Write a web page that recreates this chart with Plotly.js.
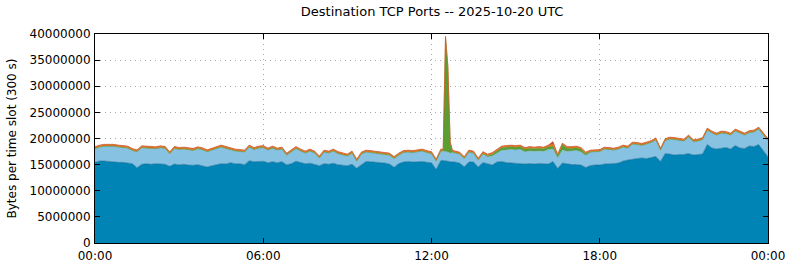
<!DOCTYPE html>
<html>
<head>
<meta charset="utf-8">
<script src="https://cdn.plot.ly/plotly-3.0.1.min.js"></script>
<style>html,body{margin:0;padding:0;background:#fff;}#chart{width:790px;height:267px;}</style>
</head>
<body>
<div id="chart"></div>
<script>
// Time slots (HH:MM on 2025-10-20; "24:00" = midnight at the end of the day)
const slotTimes = [
"00:00","00:10","00:20","00:30","00:40","00:50","01:00","01:10","01:20","01:30","01:40","01:50",
"02:00","02:10","02:20","02:30","02:40","02:50","03:00","03:10","03:20","03:30","03:40","03:50",
"04:00","04:10","04:20","04:30","04:40","04:50","05:00","05:10","05:20","05:30","05:40","05:50",
"06:00","06:10","06:20","06:30","06:40","06:50","07:00","07:10","07:20","07:30","07:40","07:50",
"08:00","08:10","08:20","08:30","08:40","08:50","09:00","09:10","09:20","09:30","09:40","09:50",
"10:00","10:10","10:20","10:30","10:40","10:50","11:00","11:10","11:20","11:30","11:40","11:50",
"12:00","12:10","12:20","12:25","12:30","12:35","12:40","12:45","12:50",
"13:00","13:10","13:20","13:30","13:40","13:50","14:00","14:10","14:20","14:30","14:40","14:50",
"15:00","15:10","15:20","15:30","15:40","15:50","16:00","16:10","16:20","16:30","16:40","16:50",
"17:00","17:10","17:20","17:30","17:40","17:50","18:00","18:10","18:20","18:30","18:40","18:50",
"19:00","19:10","19:20","19:30","19:40","19:50","20:00","20:10","20:20","20:30","20:40","20:50",
"21:00","21:10","21:20","21:30","21:40","21:50","22:00","22:10","22:20","22:30","22:40","22:50",
"23:00","23:10","23:20","23:30","23:40","23:50","24:00"
];

// Series values in millions of bytes per slot (stack order: bottom -> top)
const portDarkBlue = [
15.44,15.69,15.69,15.57,15.57,15.44,15.44,15.31,15.18,14.42,
15.06,15.18,15.06,15.18,15.12,15.06,14.67,15.12,14.95,15.06,
14.93,14.87,15.00,14.80,14.55,14.80,15.06,15.18,15.12,15.37,
15.18,15.18,14.99,15.75,15.56,15.65,15.65,15.37,15.56,15.37,
15.56,14.99,15.18,15.65,15.37,15.18,15.27,15.08,14.80,15.18,
15.08,15.27,14.99,14.89,14.80,15.08,14.32,14.99,15.60,15.55,
15.50,15.35,15.30,15.10,14.50,15.20,15.50,15.60,15.50,15.55,
15.60,15.45,15.35,14.10,15.80,
15.80,15.70,15.60,15.50,15.50,
15.50,15.30,14.60,15.50,15.50,14.55,15.40,15.12,14.93,15.50,
15.60,15.40,15.31,15.31,15.21,15.12,15.21,15.12,15.21,15.12,
15.12,15.60,14.26,15.31,15.12,15.02,15.02,14.93,14.45,14.83,
14.93,14.93,15.12,15.12,15.21,15.31,15.69,15.89,16.08,16.17,
16.27,16.17,16.36,16.56,15.60,17.13,17.03,16.84,16.94,16.94,
17.13,16.84,16.94,17.03,18.85,18.18,17.99,18.18,18.28,17.99,
18.66,18.18,18.09,18.56,18.47,18.85,17.61,16.50
];
const portLightBlue = [
2.56,2.62,2.76,2.93,2.88,2.87,2.81,2.80,2.47,2.98,
3.12,3.00,2.99,2.81,3.06,2.99,2.36,2.93,2.90,2.86,
2.87,2.80,2.99,3.00,2.86,2.87,2.86,3.13,2.93,2.36,
2.37,2.27,2.36,2.56,2.27,2.46,2.56,2.36,2.55,2.36,
2.36,1.78,2.17,2.37,2.18,1.98,2.28,2.08,1.40,2.17,
2.08,2.28,2.06,1.88,1.78,2.08,1.31,1.98,1.75,1.70,
1.66,1.62,1.57,1.67,1.61,1.57,1.75,1.75,1.75,1.90,
1.95,1.80,1.70,1.53,1.75,
1.75,1.80,1.80,1.70,1.80,
1.66,1.67,1.51,1.85,1.66,1.27,1.65,1.36,1.74,1.75,
2.11,2.41,2.60,2.50,2.70,2.31,2.41,2.40,2.41,2.40,
2.79,2.38,2.02,2.48,2.40,2.60,2.69,2.50,2.32,2.47,
2.52,2.52,2.80,2.71,2.52,2.61,2.62,2.22,2.80,2.62,
2.36,2.71,2.81,3.14,2.13,2.42,2.81,2.90,2.61,2.51,
3.09,2.52,2.51,2.71,2.71,2.81,2.61,2.81,2.61,2.61,
2.71,2.81,2.51,2.52,2.71,2.90,2.99,3.05
];
const portGreen = [
0.1,0.1,0.1,0.1,0.1,0.1,0.1,0.1,0.1,0.1,
0.1,0.1,0.1,0.1,0.1,0.1,0.1,0.1,0.1,0.1,
0.1,0.1,0.1,0.1,0.1,0.1,0.1,0.1,0.1,0.1,
0.1,0.1,0.1,0.1,0.1,0.1,0.1,0.1,0.1,0.1,
0.1,0.1,0.1,0.1,0.1,0.1,0.1,0.1,0.1,0.1,
0.1,0.1,0.1,0.1,0.1,0.1,0.1,0.1,0.1,0.1,
0.1,0.1,0.1,0.1,0.1,0.1,0.1,0.1,0.1,0.1,
0.1,0.1,0.1,0.1,0.1,
0.1,21.7,16.1,1.8,0.1,
0.1,0.1,0.1,0.1,0.1,0.1,0.1,0.2,0.3,0.4,
0.5,0.5,0.5,0.5,0.5,0.5,0.5,0.5,0.5,0.5,
0.5,0.5,0.4,1.0,0.6,0.5,0.5,0.5,0.3,0.15,
0.1,0.1,0.1,0.1,0.1,0.1,0.1,0.1,0.1,0.1,
0.1,0.1,0.1,0.1,0.1,0.1,0.1,0.1,0.1,0.1,
0.1,0.1,0.1,0.1,0.1,0.1,0.1,0.1,0.1,0.1,
0.1,0.1,0.1,0.1,0.1,0.1,0.1,0.1
];
const portOrange = [
0.25,0.25,0.25,0.25,0.25,0.25,0.25,0.25,0.25,0.25,
0.25,0.25,0.25,0.25,0.25,0.25,0.25,0.25,0.25,0.25,
0.25,0.25,0.25,0.25,0.25,0.25,0.25,0.25,0.25,0.25,
0.25,0.25,0.25,0.25,0.25,0.25,0.25,0.25,0.25,0.25,
0.25,0.25,0.25,0.25,0.25,0.25,0.25,0.25,0.25,0.25,
0.25,0.25,0.25,0.25,0.25,0.25,0.25,0.25,0.25,0.25,
0.25,0.25,0.25,0.25,0.25,0.25,0.25,0.25,0.25,0.25,
0.25,0.25,0.25,0.25,0.25,
0.25,0.30,0.35,0.30,0.25,
0.25,0.25,0.25,0.25,0.25,0.25,0.25,0.25,0.25,0.25,
0.25,0.25,0.25,0.25,0.25,0.25,0.25,0.25,0.25,0.25,
0.25,0.45,0.25,0.25,0.25,0.25,0.25,0.25,0.25,0.25,
0.25,0.25,0.25,0.25,0.25,0.25,0.25,0.25,0.25,0.25,
0.25,0.25,0.25,0.25,0.25,0.25,0.25,0.25,0.25,0.25,
0.25,0.25,0.25,0.25,0.25,0.25,0.25,0.25,0.25,0.25,
0.25,0.25,0.25,0.25,0.25,0.25,0.25,0.25
];
const portRed = [
0.1,0.1,0.1,0.1,0.1,0.1,0.1,0.1,0.1,0.1,
0.1,0.1,0.1,0.1,0.1,0.1,0.1,0.1,0.1,0.1,
0.1,0.1,0.1,0.1,0.1,0.1,0.1,0.1,0.1,0.1,
0.1,0.1,0.1,0.1,0.1,0.1,0.1,0.1,0.1,0.1,
0.1,0.1,0.1,0.1,0.1,0.1,0.1,0.1,0.1,0.1,
0.1,0.1,0.1,0.1,0.1,0.1,0.1,0.1,0.1,0.1,
0.1,0.1,0.1,0.1,0.1,0.1,0.1,0.1,0.1,0.1,
0.1,0.1,0.1,0.1,0.1,
0.1,0.1,0.1,0.1,0.1,
0.1,0.1,0.1,0.1,0.1,0.1,0.1,0.1,0.1,0.1,
0.1,0.1,0.1,0.1,0.1,0.1,0.1,0.1,0.1,0.1,
0.1,0.5,0.1,0.1,0.1,0.1,0.1,0.1,0.1,0.1,
0.1,0.1,0.1,0.1,0.1,0.1,0.1,0.1,0.1,0.1,
0.1,0.1,0.1,0.1,0.1,0.1,0.1,0.1,0.1,0.1,
0.1,0.1,0.1,0.1,0.1,0.1,0.1,0.1,0.1,0.1,
0.1,0.1,0.1,0.1,0.1,0.1,0.1,0.1
];
const UNIT = 1e6;
const yTickVals = [0,5000000,10000000,15000000,20000000,25000000,30000000,35000000,40000000];
const xTickVals = ['2025-10-20 00:00','2025-10-20 06:00','2025-10-20 12:00','2025-10-20 18:00','2025-10-21 00:00'];
const xTickText = ['00:00','06:00','12:00','18:00','00:00'];

const x = slotTimes.map(t => t === '24:00' ? '2025-10-21 00:00' : '2025-10-20 ' + t);
const layers = [
  {v: portDarkBlue,  fill: '#0083b5', line: '#1f6f93', w: 0.6},
  {v: portLightBlue, fill: '#88c2e3', line: '#78aecd', w: 0.5},
  {v: portGreen,     fill: '#5a9e32', line: '#55932f', w: 0.5},
  {v: portOrange,    fill: '#e8731c', line: '#e06a1a', w: 0.5},
  {v: portRed,       fill: '#c24a26', line: '#c24a26', w: 0.4}
];
const traces = layers.map(l => ({
  type: 'scatter', mode: 'lines', x: x, y: l.v.map(v => v * UNIT),
  stackgroup: 'one', fillcolor: l.fill,
  line: {color: l.line, width: l.w, shape: 'linear'},
  hoverinfo: 'skip'
}));

const axisFont = {family: 'DejaVu Sans, sans-serif', size: 12, color: '#000'};
const gridDash = '1px,4px';
const layout = {
  width: 790, height: 267,
  margin: {l: 95, r: 22, t: 34, b: 24, pad: 0},
  paper_bgcolor: '#fff', plot_bgcolor: '#fff',
  showlegend: false, hovermode: false,
  font: axisFont,
  title: {text: 'Destination TCP Ports -- 2025-10-20 UTC', x: 0.547, xanchor: 'center', y: 0.958, yanchor: 'middle',
          font: {family: 'DejaVu Sans, sans-serif', size: 13, color: '#000'}},
  xaxis: {
    type: 'date', range: ['2025-10-20 00:00', '2025-10-21 00:00'],
    tickmode: 'array', tickvals: xTickVals, ticktext: xTickText,
    showline: true, linecolor: '#000', linewidth: 1, mirror: 'ticks',
    ticks: 'inside', ticklen: 5, tickcolor: '#000', ticklabelstandoff: 2,
    showgrid: true, gridcolor: '#a8a8a8', griddash: gridDash, gridwidth: 1,
    zeroline: false, tickfont: axisFont, fixedrange: true
  },
  yaxis: {
    range: [0, 40000000], tickmode: 'array', tickvals: yTickVals,
    ticktext: yTickVals.map(v => String(v)),
    showline: true, linecolor: '#000', linewidth: 1, mirror: 'ticks',
    ticks: 'inside', ticklen: 5, tickcolor: '#000', ticklabelstandoff: 1,
    showgrid: true, gridcolor: '#a8a8a8', griddash: gridDash, gridwidth: 1,
    zeroline: false, tickfont: axisFont, fixedrange: true,
    title: {text: 'Bytes per time slot (300 s)', font: axisFont, standoff: 10}
  }
};
Plotly.newPlot('chart', traces, layout, {staticPlot: true, displayModeBar: false});
</script>
</body>
</html>
